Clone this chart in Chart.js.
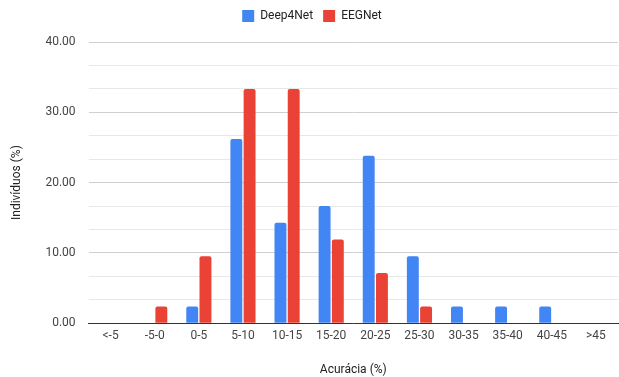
<!DOCTYPE html>
<html lang="pt">
  <head>
    <meta charset="UTF-8" />
    <title>Acurácia</title>
    <script src="https://cdn.jsdelivr.net/npm/chart.js@4"></script>
    <style>
      html, body { margin: 0; padding: 0; background: #fff; }
      #wrap { width: 619px; height: 377px; }
    </style>
  </head>
  <body>
    <div id="wrap"><canvas id="chart"></canvas></div>
    <script>
      // faixas de acurácia
      const categories = ["<-5", "-5-0", "0-5", "5-10", "10-15", "15-20", "20-25", "25-30", "30-35", "35-40", "40-45", ">45"];
      const deep4net = [0, 0, 2.38, 26.19, 14.29, 16.67, 23.81, 9.52, 2.38, 2.38, 2.38, 0];
      const eegnet = [0, 2.38, 9.52, 33.33, 33.33, 11.9, 7.14, 2.38, 0, 0, 0, 0];

      Chart.defaults.font.family = "Roboto, Arial, sans-serif";
      Chart.defaults.font.size = 12;
      Chart.defaults.color = "#444";

      const isMajor = (v) => Math.abs(v / 10 - Math.round(v / 10)) < 0.01;

      // a bit more room between legend and plot
      const legendGap = {
        id: "legendGap",
        beforeInit(chart) {
          const fit = chart.legend.fit;
          chart.legend.fit = function () {
            fit.bind(chart.legend)();
            this.height += 10;
          };
        },
      };

      new Chart(document.getElementById("chart"), {
        type: "bar",
        data: {
          labels: categories,
          datasets: [
            { label: "Deep4Net", data: deep4net, backgroundColor: "#4285F4", borderRadius: 2, borderSkipped: "bottom" },
            { label: "EEGNet", data: eegnet, backgroundColor: "#EA4335", borderRadius: 2, borderSkipped: "bottom" },
          ],
        },
        plugins: [legendGap],
        options: {
          responsive: true,
          maintainAspectRatio: false,
          animation: false,
          layout: { padding: { left: 6, right: 1, top: 0, bottom: 0 } },
          datasets: { bar: { categoryPercentage: 0.6, barPercentage: 0.9 } },
          plugins: {
            legend: {
              position: "top",
              labels: { boxWidth: 12, boxHeight: 12, padding: 10, color: "#222" },
            },
            tooltip: { enabled: false },
          },
          scales: {
            x: {
              grid: { display: false, drawTicks: false },
              border: { color: "#333" },
              ticks: { color: "#444", padding: 6 },
              title: { display: true, text: "Acurácia (%)", color: "#222", padding: { top: 13, bottom: 0 } },
            },
            y: {
              min: 0,
              max: 40,
              afterBuildTicks: (axis) => {
                const t = [];
                for (let i = 0; i <= 12; i++) t.push({ value: (i * 10) / 3 });
                axis.ticks = t;
              },
              grid: {
                color: (ctx) => (ctx.tick && isMajor(ctx.tick.value) ? "#d0d0d0" : "#e8e8e8"),
                drawTicks: false,
              },
              border: { display: false },
              ticks: {
                padding: 13,
                color: "#444",
                callback: (v) => (isMajor(v) ? v.toFixed(2) : ""),
              },
              title: { display: true, text: "Indivíduos (%)", color: "#222", padding: { bottom: 8 } },
            },
          },
        },
      });
    </script>
  </body>
</html>
